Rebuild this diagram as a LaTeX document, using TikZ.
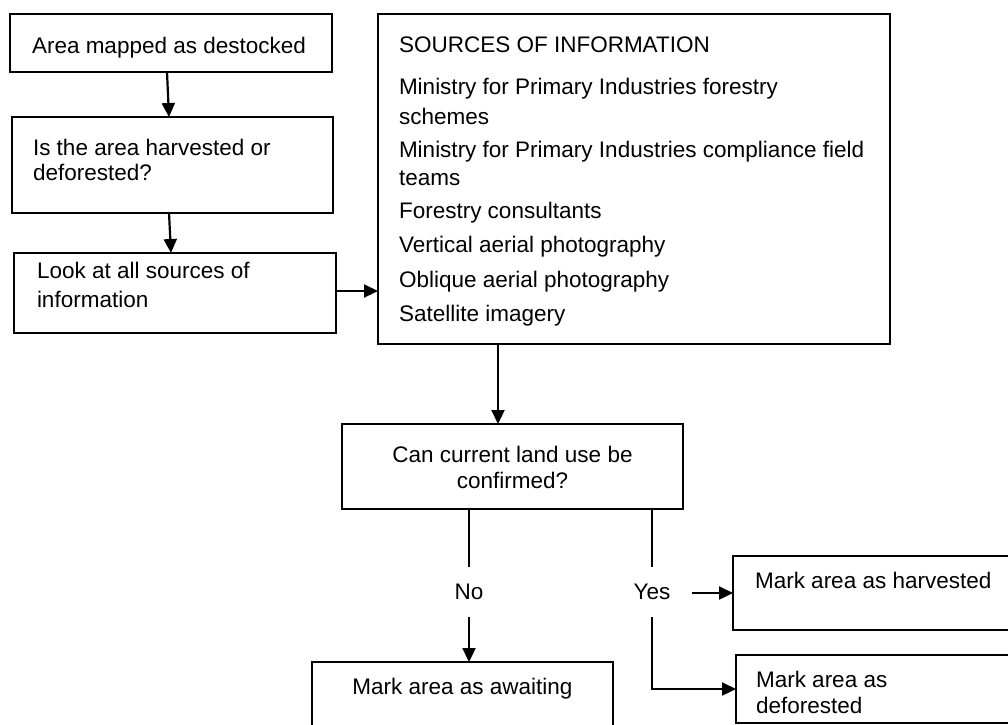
\documentclass[tikz,border=0pt]{standalone}
\usepackage{fontspec}
\setmainfont{Liberation Sans}
\usetikzlibrary{arrows.meta}
\newcommand{\fsz}{\fontsize{22.5pt}{26pt}\selectfont}
\begin{document}
\begin{tikzpicture}[x=1pt,y=-1pt,
  box/.style={draw, line width=1.6pt, inner sep=0pt, outer sep=0pt},
  txt/.style={inner sep=0pt, outer sep=0pt, anchor=base west, font=\fsz},
  ctxt/.style={inner sep=0pt, outer sep=0pt, anchor=base, font=\fsz},
  lbl/.style={inner sep=0pt, outer sep=0pt, minimum height=50pt, font=\fsz},
  ln/.style={line width=2.2pt},
  arr/.style={ln, -{Triangle[length=14pt,width=13pt]}}]
\path[use as bounding box, fill=white] (0,0) rectangle (1008,724);

% boxes
\node[box, minimum width=322pt, minimum height=58pt] (b1) at (171,43) {};
\node[box, minimum width=321pt, minimum height=96pt] (b2) at (172.5,165) {};
\node[box, minimum width=322pt, minimum height=80pt] (b3) at (175,293) {};
\node[box, minimum width=512pt, minimum height=330pt] (big) at (634,179) {};
\node[box, minimum width=341pt, minimum height=85pt] (dec) at (512.5,466.5) {};
\node[box, minimum width=301pt, minimum height=80pt] (aw) at (462.5,702) {};
\node[box, minimum width=280pt, minimum height=74pt] (hv) at (873,593) {};
\node[box, minimum width=277pt, minimum height=68pt] (df) at (874.5,689) {};

% texts
\node[txt] (t1) at (32,53) {Area mapped as destocked};
\node[txt] (t2a) at (33,155) {Is the area harvested or};
\node[txt] (t2b) at (33,180) {deforested?};
\node[txt] (t3a) at (37,278) {Look at all sources of};
\node[txt] (t3b) at (37,307) {information};

\node[txt] (s0) at (399,52) {SOURCES OF INFORMATION};
\node[txt] (s1) at (399,94) {Ministry for Primary Industries forestry};
\node[txt] (s1b) at (399,124) {schemes};
\node[txt] (s2) at (399,157) {Ministry for Primary Industries compliance field};
\node[txt] (s2b) at (399,185) {teams};
\node[txt] (s3) at (399,218) {Forestry consultants};
\node[txt] (s4) at (399,252) {Vertical aerial photography};
\node[txt] (s5) at (399,287) {Oblique aerial photography};
\node[txt] (s6) at (399,321) {Satellite imagery};

\node[ctxt] (d1) at (512.5,462) {Can current land use be};
\node[ctxt] (d2) at (512.5,488) {confirmed?};

\node[ctxt] (awt) at (462.5,694) {Mark area as awaiting};
\node[txt] (hvt) at (755,588) {Mark area as harvested};
\node[txt] (dft1) at (756,687) {Mark area as};
\node[txt] (dft2) at (756,713) {deforested};

% branch labels
\node[lbl] (no) at (469,592) {No};
\node[lbl] (yes) at (652,592) {Yes};

% connectors
\draw[arr] ([xshift=-4pt]b1.south) -- ([xshift=-3.5pt]b2.north);
\draw[arr] ([xshift=-3.5pt]b2.south) -- ([xshift=-4pt]b3.north);
\draw[arr] ([yshift=2pt]b3.east) -- ([yshift=2pt]b3.east -| big.west);
\draw[arr] ([xshift=-14.5pt]dec.north |- big.south) -- ([xshift=-14.5pt]dec.north);
\draw[ln] (dec.south -| no) -- (no.north);
\draw[arr] (no.south) -- (no.south |- aw.north);
\draw[ln] (dec.south -| yes) -- (yes.north);
\draw[arr] ([xshift=22pt]yes.east |- hv.west) -- (hv.west);
\draw[arr] (yes.south) |- (df.west);
\end{tikzpicture}
\end{document}
